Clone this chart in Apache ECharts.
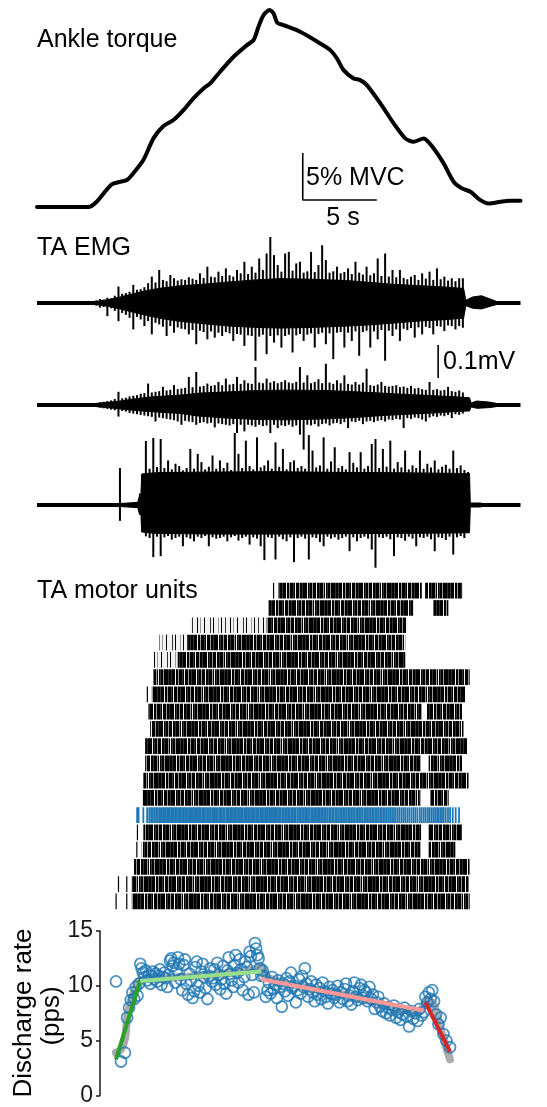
<!DOCTYPE html>
<html><head><meta charset="utf-8">
<script src="https://cdn.jsdelivr.net/npm/echarts@6/dist/echarts.min.js"></script>
<style>html,body{margin:0;padding:0;background:#fff}#c{width:547px;height:1107px}</style>
</head><body><div id="c"></div>
<script>
// ---------------- DATA ----------------
// Ankle torque (time in s, torque in %MVC)
const torqueTime = [0, 3.47, 4.03, 5.05, 6.06, 6.40, 7.18, 7.86, 8.54, 9.21, 9.89, 10.56, 11.24, 11.69, 12.36, 13.27, 14.17, 14.62, 14.95, 15.29, 15.70, 15.97, 16.22, 16.64, 17.77, 19.12, 19.80, 20.25, 20.70, 21.37, 21.82, 22.27, 23.18, 24.08, 24.86, 25.42, 26.10, 26.78, 27.45, 28.13, 28.69, 29.26, 29.93, 30.50, 31.28, 31.96, 32.64];
const torqueValue = [0, 0, 0.57, 2.41, 2.87, 3.40, 5.0, 7.31, 8.62, 9.26, 10.32, 11.56, 12.62, 13.16, 14.40, 15.99, 17.23, 17.77, 19.18, 20.43, 20.96, 20.60, 19.61, 19.36, 18.65, 17.41, 16.70, 15.82, 14.57, 13.69, 13.51, 12.98, 11.03, 8.90, 7.31, 6.95, 7.31, 6.24, 4.65, 2.70, 1.99, 1.63, 0.74, 0.39, 0.57, 0.67, 0.67];
const torqueScaleBar = [17.94, 0.75, 5, 5]; // t, y, 5 s, 5 %MVC

// EMG (time in s, amplitude in µV)
const emgSpan = [0, 32.64];
const emgStep = 0.25;
// dense envelope [t, up, down]
const emg1Core = [[4.0,5,5],[4.8,10,10],[5.6,18,18],[6.5,28,28],[7.4,38,38],[8.5,46,48],[9.7,52,56],[11.5,58,64],[13.0,64,70],[14.8,70,74],[16.4,74,76],[18.5,72,74],[20.9,68,70],[22.6,62,66],[24.3,56,60],[26.0,52,54],[27.7,48,50],[28.8,44,46],[28.95,8,8],[29.4,18,16],[30.0,22,18],[30.6,12,10],[31.0,5,5]];
const emg2Core = [[4.0,5,5],[4.8,8,8],[5.6,12,12],[6.5,18,16],[7.6,24,20],[9.7,30,26],[11.0,36,34],[13.0,40,40],[15.0,44,44],[17.0,45,45],[19.5,44,42],[21.5,40,38],[23.3,36,32],[25.0,32,28],[26.8,28,24],[28.2,25,20],[29.2,22,18],[29.3,6,6],[29.7,12,10],[30.5,9,8],[31.0,5,5]];
const emg3Core = [[5.4,4,4],[6.8,8,8],[6.9,25,25],[7.0,14,12],[7.07,94,82],[8.0,98,86],[12.0,100,88],[16.0,101,88],[20.0,99,87],[24.0,98,86],[28.0,96,85],[29.2,95,84],[29.25,6,6],[30.0,6,6]];
// peak excursions sampled every 0.25 s (up / down, µV)
const emg1Start = 4.0;
const emg1Up = [8, 12, 10, 16, 14, 22, 50, 28, 30, 34,
  55, 40, 42, 48, 60, 80, 62, 100, 70, 66,
  85, 75, 68, 72, 70, 78, 74, 70, 90, 76,
  110, 80, 78, 95, 82, 105, 84, 80, 100, 90,
  125, 88, 110, 92, 135, 100, 150, 200, 145, 115,
  95, 150, 155, 98, 120, 125, 92, 96, 155, 94,
  115, 175, 130, 92, 96, 110, 90, 94, 105, 88,
  125, 92, 86, 110, 84, 90, 135, 82, 150, 80,
  100, 78, 100, 76, 72, 80, 85, 70, 90, 74,
  95, 70, 105, 72, 80, 68, 75, 66, 75, 75, 8];
const emg1Down = [8, 14, 12, 40, 16, 24, 55, 30, 36, 45,
  80, 42, 50, 70, 55, 95, 60, 65, 72, 100,
  70, 90, 74, 78, 80, 95, 82, 125, 84, 88,
  110, 86, 105, 90, 100, 88, 92, 115, 94, 96,
  130, 98, 100, 175, 102, 96, 155, 100, 120, 98,
  135, 100, 96, 150, 98, 94, 115, 96, 92, 135,
  94, 90, 125, 92, 170, 90, 88, 135, 90, 115,
  86, 160, 88, 84, 135, 86, 110, 82, 175, 84,
  100, 80, 115, 78, 82, 76, 105, 74, 95, 72,
  76, 95, 70, 72, 85, 68, 70, 80, 70, 75, 8];
const emg2Start = 4.0;
const emg2Up = [6, 8, 10, 12, 14, 18, 40, 20, 22, 26,
  28, 30, 34, 36, 65, 38, 40, 42, 55, 44,
  46, 60, 48, 50, 52, 85, 54, 100, 56, 58,
  65, 58, 60, 70, 60, 80, 62, 64, 85, 64,
  75, 66, 64, 115, 68, 66, 80, 68, 72, 66,
  70, 75, 68, 66, 70, 115, 68, 90, 66, 70,
  78, 66, 125, 68, 64, 75, 66, 90, 64, 62,
  70, 62, 68, 110, 60, 58, 62, 70, 58, 56,
  58, 60, 54, 56, 52, 58, 50, 52, 48, 46,
  70, 46, 48, 44, 46, 55, 42, 40, 44, 38, 6];
const emg2Down = [6, 8, 10, 12, 14, 16, 35, 18, 20, 24,
  26, 28, 30, 32, 34, 36, 50, 38, 40, 42,
  44, 46, 50, 60, 48, 50, 52, 60, 54, 52,
  56, 54, 68, 56, 58, 60, 62, 58, 85, 60,
  80, 60, 62, 66, 60, 64, 62, 85, 60, 70,
  62, 64, 60, 66, 62, 90, 135, 60, 62, 58,
  65, 58, 56, 62, 56, 54, 58, 52, 70, 50,
  52, 48, 58, 50, 48, 52, 48, 46, 50, 44,
  46, 42, 44, 70, 40, 42, 38, 40, 44, 50,
  38, 34, 36, 32, 34, 30, 40, 28, 30, 26, 6];
const emg3Start = 7.1;
const emg3Up = [90, 194, 110, 203, 115, 200, 112, 135, 108, 125,
  118, 105, 112, 170, 110, 155, 130, 108, 116, 150,
  110, 135, 112, 128, 106, 218, 155, 112, 195, 118,
  108, 205, 114, 120, 135, 110, 190, 116, 170, 108,
  130, 135, 112, 118, 110, 212, 165, 114, 120, 205,
  110, 132, 175, 112, 118, 108, 160, 128, 114, 160,
  110, 118, 185, 200, 112, 170, 116, 195, 110, 130,
  114, 165, 108, 120, 112, 165, 110, 125, 114, 135,
  108, 116, 122, 110, 165, 112, 120, 106, 100];
const emg3Down = [80, 95, 100, 158, 96, 155, 98, 94, 105, 100,
  96, 125, 98, 102, 110, 96, 100, 94, 125, 98,
  102, 100, 96, 110, 98, 94, 108, 100, 96, 120,
  98, 102, 125, 167, 98, 100, 165, 96, 104, 110,
  98, 173, 100, 96, 102, 165, 98, 100, 112, 125,
  96, 102, 98, 105, 100, 96, 140, 98, 110, 100,
  96, 102, 135, 190, 98, 100, 96, 104, 155, 98,
  100, 108, 96, 102, 125, 98, 100, 96, 104, 140,
  98, 100, 106, 96, 150, 98, 94, 100, 75];
const emg3Pre = [[5.6, 112, 48], [6.95, 35, 30]]; // isolated potentials before onset [t, up, down]
const emgScaleBar = [27.08, 82, 100]; // t, start µV (trace 2), 0.1 mV

// Motor-unit raster: firing segments per unit [start s, end s, sparse?]; row 13 is the highlighted unit
const unitSegments = [
  [[15.97,15.97],[16.3,25.99],[26.2,28.7]],
  [[15.63,25.4],[26.76,27.77]],
  [[10.34,15.52,1],[15.52,24.98]],
  [[8.27,10.2,1],[10.2,24.86]],
  [[7.86,9.5,1],[9.5,24.86]],
  [[7.86,29.21]],
  [[7.45,7.45],[7.75,28.92]],
  [[7.52,25.99],[26.33,28.69]],
  [[7.64,28.8]],
  [[7.3,29.03]],
  [[7.3,25.88],[26.44,28.69]],
  [[7.18,29.14]],
  [[7.14,25.88],[26.55,27.79]],
  null,
  [[6.78,6.78],[7.18,25.99],[26.44,28.69]],
  [[6.74,6.74],[7.07,25.88],[26.44,28.24]],
  [[6.55,29.21]],
  [[5.5,5.5],[6.06,6.06],[6.4,29.14]],
  [[5.34,5.34],[6.06,6.06],[6.4,29.21]]
];
const blueRow = 13;
const blueOnset = 6.76;

// Highlighted unit instantaneous discharge rates (pps)
const rampRates = [10.4, 3.1, 3.9, 7.1, 8.0, 8.7, 9.4, 8.8, 9.9, 9.1, 10.2, 12.0];
const plateauRates = [11.6, 11.2, 10.8, 11.4, 10.5, 11.0, 10.2, 10.9, 11.3, 10.6,
  11.1, 10.4, 10.9, 11.5, 10.1, 10.8, 11.2, 10.7, 9.9, 11.0,
  12.3, 12.5, 11.8, 12.1, 10.3, 11.4, 12.6, 12.0, 10.6, 9.6,
  11.9, 12.4, 10.2, 9.2, 11.1, 10.5, 8.9, 9.5, 11.7, 12.2,
  10.0, 9.4, 11.3, 12.0, 10.8, 9.8, 8.8, 10.9, 11.6, 10.4,
  10.7, 11.5, 10.1,
  12.1, 11.0, 9.7, 10.6, 11.8, 10.2, 9.3, 11.4, 12.6, 11.1,
  10.5, 9.9, 11.9, 12.8, 11.2, 10.3, 12.4, 11.5, 9.6, 10.8,
  12.2, 11.7, 9.2, 13.1, 12.7, 11.0, 9.4, 13.9, 13.4, 12.8,
  12.5, 11.6, 10.9];
const declineRates = [11.4, 10.9, 9.0, 9.6, 10.3, 9.3, 10.8, 9.7, 10.1, 8.9,
  10.5, 9.9, 8.1, 10.2, 9.5, 10.7, 9.1, 10.4, 11.2, 9.8,
  10.0, 8.5, 9.6, 10.6, 9.3, 10.9, 9.9, 11.6, 10.2, 9.0,
  9.7, 10.4, 9.4, 8.6, 10.1, 9.2, 9.8, 8.8, 10.3, 9.5,
  9.0, 8.4, 9.9, 9.3, 9.6, 8.9, 9.2, 10.0,
  8.5, 9.4, 8.8, 9.7, 10.2, 8.6, 9.1, 8.3, 9.5, 10.3,
  9.0, 8.7, 9.8, 10.1, 8.9, 9.6, 9.4,
  8.6, 9.9, 8.8, 9.2, 7.9, 8.5, 9.0, 8.1, 7.7, 8.4,
  7.5, 8.0, 7.3, 7.8, 8.2, 7.1, 7.6, 6.9, 7.4, 8.0,
  7.2, 6.3, 7.7, 7.0, 7.5, 6.8, 7.9, 7.3, 7.6];
const endRates = [9.0, 8.5, 9.4, 8.8, 9.6, 8.6, 7.4, 6.5, 7.1, 5.6, 5.0, 4.4];
// Linear fits per phase: [from point index, rate, to point index, rate]
const fitSegments = [[0, 3.3, 11, 10.5], [11, 10.45, 97, 11.3], [97, 10.6, 191, 7.75], [192, 8.5, 203, 4.0]];
const fitColors = ['#2ca02c', '#98df8a', '#ff9896', '#d62728'];
// Smoothed rate: [point index, rate]
const smoothRate = [[0,3.9],[1,4.2],[2,5.2],[3,7.0],[5,8.6],[8,9.8],[11,10.5],[30,10.7],[60,11.0],[88,11.4],[97,11.7],[100,10.8],[123,9.9],[152,9.1],[178,8.0],[188,7.6],[194,8.7],[197,8.2],[200,6.0],[203,3.3]];
const rateAxis = [0, 15, 5];

// ---------------- BUILD ----------------
const FONT = "'Liberation Sans', Arial, Helvetica, sans-serif";
const blueRates = rampRates.concat(plateauRates, declineRates, endRates);
const spikeTimes = [blueOnset];
blueRates.forEach(r => spikeTimes.push(spikeTimes[spikeTimes.length - 1] + 1 / r));
const ptTime = i => spikeTimes[i + 1];
const scatterData = blueRates.map((r, i) => [ptTime(i), r]);

function makePattern(str) {
  const c = document.createElement('canvas');
  c.width = str.length; c.height = 2;
  const ctx = c.getContext('2d');
  ctx.fillStyle = '#f2f2f2'; ctx.fillRect(0, 0, c.width, 2);
  for (let i = 0; i < str.length; i++) {
    const ch = str[i];
    if (ch === '.') continue;
    ctx.fillStyle = ch === '#' ? '#000' : ch === '+' ? '#333' : '#9a9a9a';
    ctx.fillRect(i, 0, 1, 2);
  }
  return { image: c, repeat: 'repeat' };
}
const denseBase = '##+###.##-###+#.###-##+####.#+##-###.##+###-#.#+##-####+';
const sparseBase = '#...+....#..-...#.....+..#....-..';
const rot = (s, k) => { k = k % s.length; return s.slice(k) + s.slice(0, k); };
const rowPatterns = unitSegments.map((u, i) => [makePattern(rot(denseBase, i * 11)), makePattern(rot(sparseBase, i * 5))]);

const rasterData = [];
unitSegments.forEach((segs, row) => {
  if (!segs) return;
  segs.forEach(s => rasterData.push([s[0], s[1], row, s[2] ? 1 : 0]));
});

const grids = [
  { left: 37, top: 5, width: 483.5, height: 211.5 },
  { left: 37, top: 237, width: 483.5, height: 132 },
  { left: 37, top: 339, width: 483.5, height: 132 },
  { left: 37, top: 439, width: 483.5, height: 132 },
  { left: 37, top: 582, width: 483.5, height: 328 },
  { left: 116, top: 931, width: 334, height: 166 }
];
const hiddenX = i => ({ gridIndex: i, type: 'value', min: emgSpan[0], max: emgSpan[1], show: false });
const xAxes = [0, 1, 2, 3, 4].map(hiddenX).concat([{ gridIndex: 5, type: 'value', min: 'dataMin', max: 'dataMax', show: false }]);
const yAxes = [
  { gridIndex: 0, type: 'value', min: -1, max: 21.5, show: false },
  { gridIndex: 1, type: 'value', min: -200, max: 200, show: false },
  { gridIndex: 2, type: 'value', min: -200, max: 200, show: false },
  { gridIndex: 3, type: 'value', min: -200, max: 200, show: false },
  { gridIndex: 4, type: 'value', min: 0, max: 19, inverse: true, show: false },
  { gridIndex: 5, type: 'value', min: rateAxis[0], max: rateAxis[1], interval: rateAxis[2], offset: 16,
    axisLine: { show: true, lineStyle: { color: '#1a1a1a', width: 1.5 } },
    axisTick: { show: true, length: 4, lineStyle: { color: '#1a1a1a', width: 1.5 } },
    splitLine: { show: false },
    axisLabel: { fontSize: 23, fontFamily: FONT, color: '#1a1a1a', margin: 7 } }
];

const series = [];
// torque
series.push({ type: 'line', xAxisIndex: 0, yAxisIndex: 0, data: torqueTime.map((t, i) => [t, torqueValue[i]]),
  showSymbol: false, smooth: 0.25, lineStyle: { color: '#000', width: 4, cap: 'round', join: 'round' }, silent: true });
const tsb = torqueScaleBar;
series.push({ type: 'line', xAxisIndex: 0, yAxisIndex: 0, data: [[tsb[0], tsb[1] + tsb[3]], [tsb[0], tsb[1]], [tsb[0] + tsb[2], tsb[1]]],
  showSymbol: false, lineStyle: { color: '#000', width: 1.6 }, silent: true });
// EMG
const emgCores = [emg1Core, emg2Core, emg3Core];
const emgSamples = [
  emg1Up.map((u, k) => [emg1Start + k * emgStep, u, emg1Down[k]]),
  emg2Up.map((u, k) => [emg2Start + k * emgStep, u, emg2Down[k]]),
  emg3Up.map((u, k) => [emg3Start + k * emgStep, u, emg3Down[k]]).concat(emg3Pre)
];
const spikeRender = (p, api) => {
  const a = api.coord([api.value(0), -api.value(2)]), b = api.coord([api.value(0), api.value(1)]);
  return { type: 'line', shape: { x1: a[0], y1: a[1], x2: b[0], y2: b[1] }, style: { stroke: '#000', lineWidth: 2 } };
};
for (let k = 0; k < 3; k++) {
  const gi = k + 1;
  series.push({ type: 'line', xAxisIndex: gi, yAxisIndex: gi, data: [[emgSpan[0], 0], [emgSpan[1], 0]], showSymbol: false,
    lineStyle: { color: '#000', width: 4 }, silent: true });
  series.push({ type: 'line', xAxisIndex: gi, yAxisIndex: gi, data: emgCores[k].map(d => [d[0], d[1]]), showSymbol: false,
    lineStyle: { color: '#000', width: 1 }, areaStyle: { color: '#000', opacity: 1 }, silent: true });
  series.push({ type: 'line', xAxisIndex: gi, yAxisIndex: gi, data: emgCores[k].map(d => [d[0], -d[2]]), showSymbol: false,
    lineStyle: { color: '#000', width: 1 }, areaStyle: { color: '#000', opacity: 1 }, silent: true });
  series.push({ type: 'custom', xAxisIndex: gi, yAxisIndex: gi, data: emgSamples[k], silent: true, renderItem: spikeRender });
}
const esb = emgScaleBar;
series.push({ type: 'line', xAxisIndex: 2, yAxisIndex: 2, data: [[esb[0], esb[1]], [esb[0], esb[1] + esb[2]]], showSymbol: false,
  lineStyle: { color: '#000', width: 1.6 }, silent: true });
// raster
series.push({ type: 'custom', xAxisIndex: 4, yAxisIndex: 4, data: rasterData, silent: true,
  renderItem: (p, api) => {
    const row = api.value(2);
    const p0 = api.coord([api.value(0), row + 0.05]);
    const p1 = api.coord([api.value(1), row + 0.96]);
    const w = p1[0] - p0[0], h = p1[1] - p0[1];
    if (w < 2) return { type: 'rect', shape: { x: p0[0] - 0.6, y: p0[1], width: 1.2, height: h }, style: { fill: '#000' } };
    return { type: 'rect', shape: { x: p0[0], y: p0[1], width: w, height: h }, style: { fill: rowPatterns[row][api.value(3) ? 1 : 0] } };
  } });
series.push({ type: 'custom', xAxisIndex: 4, yAxisIndex: 4, data: spikeTimes.map(t => [t, blueRow]), silent: true,
  renderItem: (p, api) => {
    const a = api.coord([api.value(0), blueRow + 0.05]), b = api.coord([api.value(0), blueRow + 0.96]);
    return { type: 'line', shape: { x1: a[0], y1: a[1], x2: b[0], y2: b[1] }, style: { stroke: '#1f77b4', lineWidth: 1.8 } };
  } });
// discharge rate
series.push({ type: 'line', xAxisIndex: 5, yAxisIndex: 5, z: 2, data: smoothRate.map(d => [ptTime(d[0]), d[1]]), showSymbol: false,
  smooth: 0.3, clip: false, lineStyle: { color: '#ababab', width: 8, cap: 'round', join: 'round' }, silent: true });
series.push({ type: 'scatter', xAxisIndex: 5, yAxisIndex: 5, z: 3, data: scatterData, symbol: 'circle', symbolSize: 11, clip: false,
  itemStyle: { color: 'rgba(255,255,255,0)', borderColor: '#1f77b4', borderWidth: 1.8 }, silent: true });
fitSegments.forEach((f, i) => {
  series.push({ type: 'line', xAxisIndex: 5, yAxisIndex: 5, z: 4, data: [[ptTime(f[0]), f[1]], [ptTime(f[2]), f[3]]], showSymbol: false,
    clip: false, lineStyle: { color: fitColors[i], width: 4 }, silent: true });
});

const txt = (text, x, y, size, align, extra) => Object.assign({ type: 'text', x: x, y: y, silent: true,
  style: { text: text, font: size + 'px ' + FONT, fill: '#000', align: align || 'left', verticalAlign: 'middle',
    textAlign: align || 'left', textVerticalAlign: 'middle' } }, extra || {});

const chart = echarts.init(document.getElementById('c'), null, { renderer: 'canvas' });
chart.setOption({
  animation: false,
  backgroundColor: '#fff',
  grid: grids,
  xAxis: xAxes,
  yAxis: yAxes,
  series: series,
  graphic: [
    txt('Ankle torque', 37, 40, 25),
    txt('5% MVC', 306, 178, 25),
    txt('5 s', 343, 218, 25, 'center'),
    txt('TA EMG', 37, 248, 25),
    txt('0.1mV', 443, 362, 25),
    txt('TA motor units', 37, 591, 25),
    txt('Discharge rate', 24, 1013, 26, 'center', { rotation: Math.PI / 2 }),
    txt('(pps)', 52, 1016, 26, 'center', { rotation: Math.PI / 2 })
  ]
});
</script></body></html>
